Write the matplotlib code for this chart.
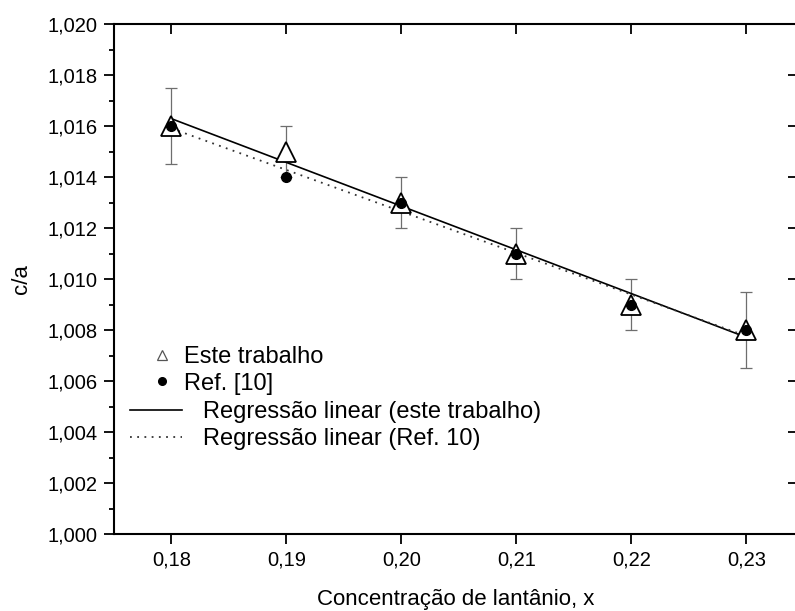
import numpy as np
import matplotlib.pyplot as plt
from matplotlib.ticker import MultipleLocator, FuncFormatter

plt.rcParams['font.family'] = ['Liberation Sans', 'DejaVu Sans']

# dados
x = [0.18, 0.19, 0.20, 0.21, 0.22, 0.23]
ca_este = [1.016, 1.015, 1.013, 1.011, 1.009, 1.008]
erro_este = [0.0015, 0.001, 0.001, 0.001, 0.001, 0.0015]
ca_ref = [1.016, 1.014, 1.013, 1.011, 1.009, 1.008]

# regressoes lineares
p_este = np.polyfit(x, ca_este, 1)
p_ref = np.polyfit(x, ca_ref, 1)
x_fit = np.array([x[0], x[-1]])

fig = plt.figure(figsize=(7.95, 6.11), dpi=100)
ax = fig.add_axes([114/795, 1 - 534/611, (798 - 114)/795, (534 - 24)/611])

ax.errorbar(x, ca_este, yerr=erro_este, fmt='none', ecolor='#6e6e6e',
            elinewidth=0.9, capsize=4, capthick=0.9, zorder=1)
l1, = ax.plot(x_fit, np.polyval(p_este, x_fit), '-', color='black', lw=1.2, zorder=2)
l2, = ax.plot(x_fit, np.polyval(p_ref, x_fit), color='#333333', lw=1.3,
              dashes=(1, 3), zorder=2)
m1, = ax.plot(x, ca_este, '^', ms=14, mfc='white', mec='black', mew=1.3,
              ls='none', zorder=3)
m2, = ax.plot(x, ca_ref, 'o', ms=7, color='black', ls='none', zorder=4)

ax.set_xlim(0.175, 0.2345)
ax.set_ylim(1.000, 1.020)
ax.xaxis.set_major_locator(MultipleLocator(0.01))
ax.yaxis.set_major_locator(MultipleLocator(0.002))
ax.yaxis.set_minor_locator(MultipleLocator(0.001))

fmt_x = FuncFormatter(lambda v, p: f'{v:.2f}'.replace('.', ','))
fmt_y = FuncFormatter(lambda v, p: f'{v:.3f}'.replace('.', ','))
ax.xaxis.set_major_formatter(fmt_x)
ax.yaxis.set_major_formatter(fmt_y)

for s in ax.spines.values():
    s.set_linewidth(1.5)

ax.tick_params(axis='both', which='major', direction='out', length=7, width=1.3,
               labelsize=14.5, pad=5)
ax.tick_params(axis='y', which='minor', direction='out', length=3.6, width=1.3)
ax.tick_params(axis='x', which='minor', bottom=False)
ax.tick_params(top=False, right=False)

# ticks internos no topo e na direita
secx = ax.secondary_xaxis('top')
secx.xaxis.set_major_locator(MultipleLocator(0.01))
secx.tick_params(direction='in', length=7, width=1.3, labeltop=False)
secx.spines['top'].set_visible(False)
secy = ax.secondary_yaxis('right')
secy.yaxis.set_major_locator(MultipleLocator(0.002))
secy.tick_params(direction='in', length=7, width=1.3, labelright=False)
secy.spines['right'].set_visible(False)

ax.set_xlabel('Concentração de lantânio, x', fontsize=16, labelpad=14)
ax.set_ylabel('c/a', fontsize=16, labelpad=11)

leg1 = ax.legend([m1, m2], ['Este trabalho', 'Ref. [10]'], loc='upper left',
                 bbox_to_anchor=(0.035, 0.392), frameon=False, fontsize=17,
                 handlelength=1.0, handletextpad=0.43, labelspacing=0.2,
                 markerscale=0.5, borderpad=0)
leg1.legend_handles[0].set_markeredgecolor('#555555')
leg1.legend_handles[0].set_markeredgewidth(0.9)
leg1.legend_handles[1].set_markersize(5.5)
ax.add_artist(leg1)
ax.legend([l1, l2], ['Regressão linear (este trabalho)', 'Regressão linear (Ref. 10)'],
          loc='upper left', bbox_to_anchor=(0.006, 0.283), frameon=False, fontsize=17,
          handlelength=2.2, handletextpad=0.88, labelspacing=0.2, borderpad=0)

fig.savefig('out.png', dpi=100)
